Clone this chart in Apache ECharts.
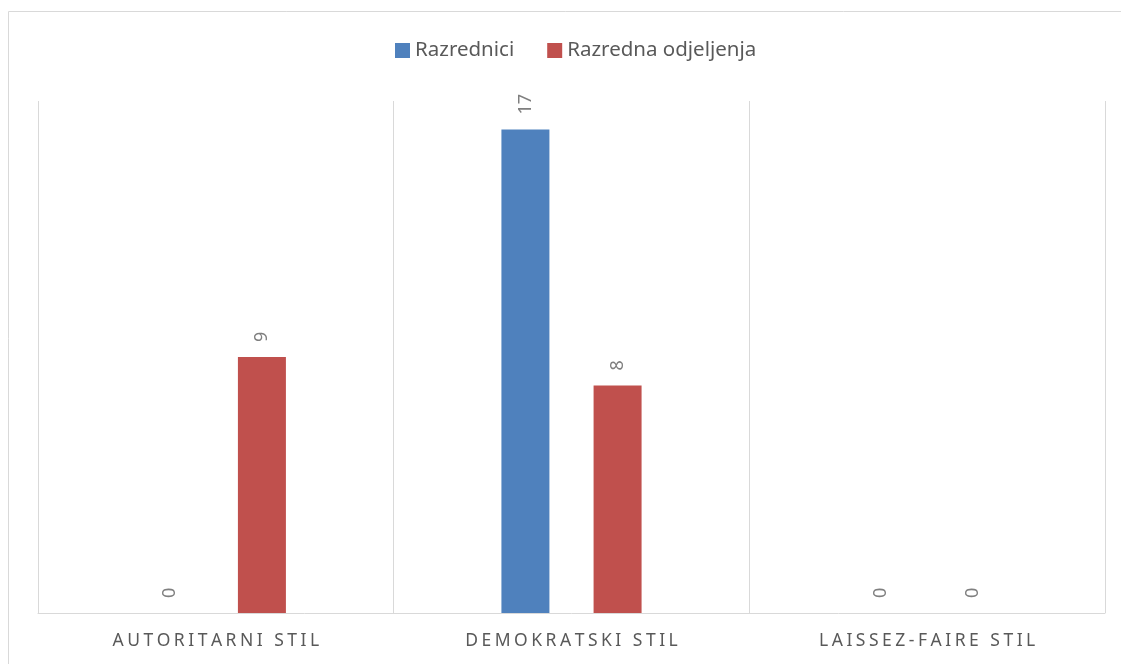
<!DOCTYPE html>
<html>
<head>
<meta charset="utf-8">
<script src="https://cdn.jsdelivr.net/npm/echarts@6/dist/echarts.min.js"></script>
<style>
  html, body { margin: 0; padding: 0; background: #fff; }
  #chart { width: 1121px; height: 664px; }
</style>
</head>
<body>
<div id="chart"></div>
<script>
const categories = ['AUTORITARNI STIL', 'DEMOKRATSKI STIL', 'LAISSEZ-FAIRE STIL']
const seriesNames = ['Razrednici', 'Razredna odjeljenja']
const razrednici = [0, 17, 0]
const odjeljenja = [9, 8, 0]

const FONT = 'Noto Sans'
// wide letter spacing like the original axis labels
const spaced = (s) => s.split('').join('\u200A\u200A')

const barLabel = {
  show: true,
  position: 'top',
  rotate: 90,
  align: 'left',
  verticalAlign: 'middle',
  distance: 15,
  color: '#7f7f7f',
  fontSize: 18,
  fontFamily: FONT,
}

const chart = echarts.init(document.getElementById('chart'))
chart.setOption({
  animation: false,
  color: ['#4f81bd', '#c0504d'],
  graphic: [
    {
      type: 'rect',
      shape: { x: 8.5, y: 11.5, width: 1200, height: 700 },
      style: { fill: 'none', stroke: '#d9d9d9', lineWidth: 1 },
      silent: true,
    },
  ],
  legend: {
    top: 35,
    left: 390,
    itemWidth: 15,
    itemHeight: 15,
    itemGap: 33,
    icon: 'rect',
    textStyle: { color: '#595959', fontSize: 20.5, fontFamily: FONT },
  },
  grid: { left: 38, right: 16, top: 101, bottom: 51 },
  xAxis: {
    type: 'category',
    data: categories,
    axisTick: { show: false },
    axisLine: { lineStyle: { color: '#d9d9d9', width: 1 } },
    splitLine: { show: true, lineStyle: { color: '#d9d9d9', width: 1 } },
    axisLabel: {
      color: '#595959',
      fontSize: 17.5,
      fontFamily: FONT,
      margin: 19,
      formatter: (v) => spaced(v),
    },
  },
  yAxis: {
    type: 'value',
    min: 0,
    max: 18,
    show: false,
    splitLine: { show: false },
  },
  series: [
    {
      name: seriesNames[0],
      type: 'bar',
      data: razrednici,
      barWidth: 48,
      barGap: '92%',
      label: barLabel,
    },
    {
      name: seriesNames[1],
      type: 'bar',
      data: odjeljenja,
      barWidth: 48,
      barGap: '92%',
      label: barLabel,
    },
  ],
})
</script>
</body>
</html>
